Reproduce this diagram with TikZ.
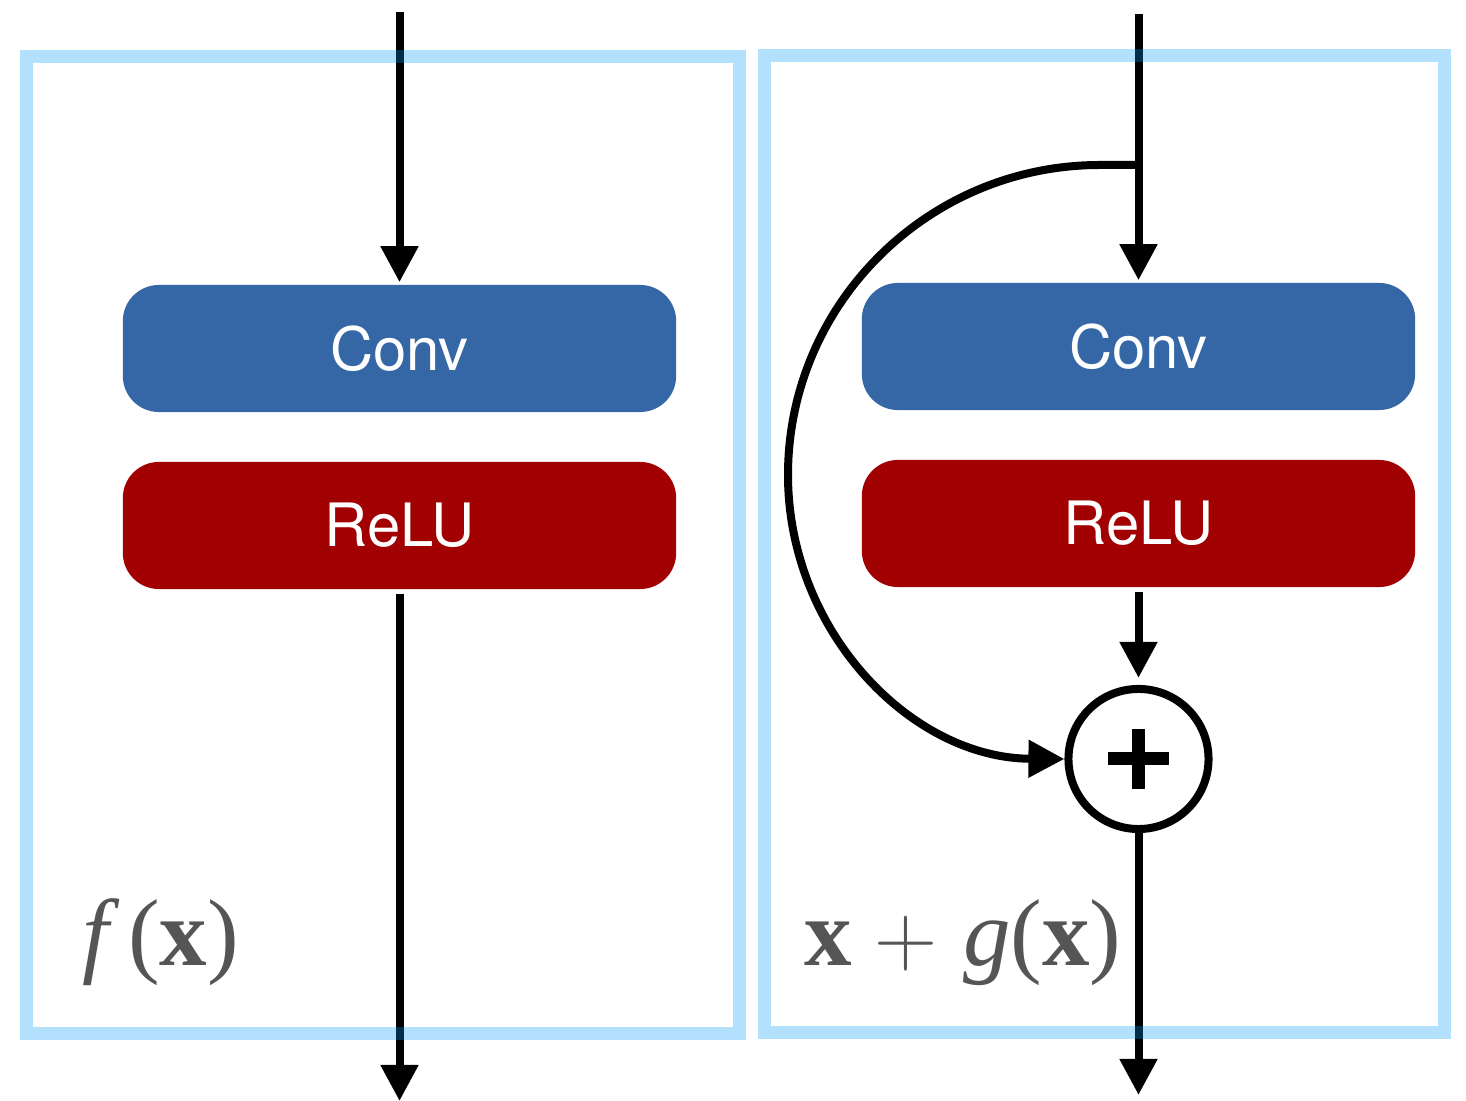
\documentclass[tikz,border=0pt]{standalone}
\usepackage{fontspec}
\setsansfont{TeX Gyre Heros}
\newfontfamily\eqfont{Liberation Serif}
\usetikzlibrary{arrows.meta}
\definecolor{convblue}{RGB}{53,103,166}
\definecolor{relured}{RGB}{161,1,1}
\definecolor{framecol}{RGB}{0,154,248}
\definecolor{labelgray}{RGB}{85,85,85}
\newcommand{\bigplus}{{\fontsize{25}{30}\selectfont$+$}}
\begin{document}
\begin{tikzpicture}[x=0.01cm,y=-0.01cm,
  layerbox/.style={rectangle, rounded corners=0.36cm, minimum width=5.53cm,
    minimum height=1.27cm, inner sep=0pt, text=white,
    font=\sffamily\fontsize{17}{20}\selectfont},
  convbox/.style={layerbox, fill=convblue},
  relubox/.style={layerbox, fill=relured},
  flow/.style={line width=0.08cm, -{Triangle[length=0.36cm,width=0.36cm]}},
  blockframe/.style={draw=framecol, draw opacity=0.3, line width=0.13cm, line join=miter},
  sumnode/.style={circle, draw, line width=0.08cm, minimum size=1.4cm,
    inner sep=0pt, fill=white},
  eqlabel/.style={anchor=base west, inner sep=0pt, text=labelgray,
    font=\eqfont\fontsize{27}{32}\selectfont}
]
\useasboundingbox (0,0) rectangle (1466,1101);

% plain block
\node[convbox] (conv1) at (399.5,348.5) {Conv};
\node[relubox] (relu1) at (399.5,525.5) {ReLU};
\coordinate (in1) at (399.5,12);
\coordinate (out1) at (399.5,1101);
\draw[flow, shorten >=0.02cm] (in1) -- (conv1.north);
\draw[flow, shorten <=0.04cm] (relu1.south) -- (out1);
\node[eqlabel] (lab1) at (82,966) {\textit{f}\hspace{0.08cm}(\textbf{x})};

% residual block
\node[convbox] (conv2) at (1138.5,346.5) {Conv};
\node[relubox] (relu2) at (1138.5,523.5) {ReLU};
\node[sumnode] (plus) at (1138.5,759) {};
\draw[line width=0.13cm] ([xshift=-0.3cm]plus.center) -- ([xshift=0.3cm]plus.center);
\draw[line width=0.13cm] ([yshift=-0.3cm]plus.center) -- ([yshift=0.3cm]plus.center);
\coordinate (in2) at (1138.5,14);
\coordinate (split) at (1138.5,165);
\coordinate (arcstart) at (1100,165);
\coordinate (loop) at (788,475);
\coordinate (out2) at (1138.5,1095);
\draw[flow, shorten >=0.02cm] (in2) -- (conv2.north);
\draw[flow, shorten <=0.04cm, shorten >=0.07cm] (relu2.south) -- (plus.north);
\draw[flow] (plus.south) -- (out2);
% skip connection around the two layers
\draw[flow] (split) -- (arcstart)
  .. controls (928,165) and (788,304) .. (loop)
  .. controls (788,631) and (911,758) .. (plus.west);
\node[eqlabel] (lab2) at (804,966)
  {\textbf{x}\hspace{0.22cm}\bigplus\hspace{0.26cm}\textit{g}(\textbf{x})};

% block outlines
\draw[blockframe] (26.5,56.5) rectangle (739.5,1033.5);
\draw[blockframe] (764.5,55.5) rectangle (1444.5,1033);
\end{tikzpicture}
\end{document}
